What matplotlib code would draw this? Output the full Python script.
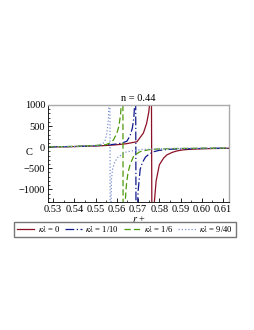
import matplotlib
matplotlib.use('Agg')
import matplotlib.pyplot as plt
from matplotlib.ticker import MultipleLocator, FuncFormatter

plt.rcParams['font.family'] = ['Liberation Serif', 'DejaVu Serif']
plt.rcParams['mathtext.fontset'] = 'stix'

# values (r_+ , C), both branches around each pole
r_red = [0.5276, 0.535, 0.540, 0.545, 0.550, 0.555, 0.560, 0.5645, 0.5695, 0.5725, 0.574, 0.575,
         0.5757, 0.5762, 0.5766, 0.5770, 0.5775, 0.5785, 0.580, 0.582, 0.5835, 0.586, 0.5882,
         0.591, 0.5945, 0.600, 0.606, 0.6128]
c_red = [6, 10, 14, 20, 28, 40, 58, 82, 130, 335, 560, 820,
         1150, 2600, -3200, -2000, -1400, -800, -420, -260, -185, -125, -90,
         -65, -50, -38, -31, -27]

r_blue = [0.5276, 0.535, 0.540, 0.545, 0.550, 0.555, 0.560, 0.5625, 0.5647, 0.5662, 0.5673, 0.568,
          0.5685, 0.5688, 0.5691, 0.5695, 0.570, 0.571, 0.572, 0.5734, 0.575, 0.5772, 0.580,
          0.585, 0.590, 0.600, 0.6128]
c_blue = [8, 12, 17, 24, 35, 50, 75, 100, 140, 265, 450, 700,
          1100, 2500, -3000, -1800, -1050, -520, -370, -240, -170, -110, -75,
          -50, -40, -31, -25]

r_green = [0.5276, 0.535, 0.540, 0.545, 0.550, 0.5546, 0.5568, 0.5584, 0.560, 0.561, 0.5618, 0.5624,
           0.5628, 0.5630, 0.5635, 0.5645, 0.5652, 0.5662, 0.568, 0.571, 0.575, 0.580, 0.590,
           0.600, 0.6128]
c_green = [8, 13, 19, 28, 40, 55, 100, 170, 330, 500, 800, 1300,
           3000, -3000, -1600, -900, -620, -420, -200, -105, -60, -42, -30,
           -25, -20]

r_dot = [0.5276, 0.535, 0.540, 0.545, 0.5498, 0.552, 0.5537, 0.5545, 0.5553, 0.556, 0.5565, 0.5567,
         0.5569, 0.5572, 0.5575, 0.558, 0.559, 0.5605, 0.5617, 0.564, 0.5678, 0.572, 0.580,
         0.590, 0.600, 0.6128]
c_dot = [6, 10, 15, 25, 30, 60, 100, 160, 330, 650, 1300, 3000,
         -3000, -1600, -750, -520, -350, -240, -200, -120, -80, -55, -38,
         -28, -22, -18]

labels = [r'$\kappa\lambda$ = 0', r'$\kappa\lambda$ = 1/10', r'$\kappa\lambda$ = 1/6', r'$\kappa\lambda$ = 9/40']

fig = plt.figure(figsize=(2.55, 3.30), dpi=100)
ax = fig.add_axes([48/255, 1-202/330, 181/255, 97/330])

ax.plot(r_red, c_red, color='#8c1025', lw=0.9, label=labels[0])
ax.plot(r_blue, c_blue, color='#101a8c', lw=0.9, dashes=(7, 2, 1, 2), label=labels[1])
ax.plot(r_green, c_green, color='#4f9a0a', lw=0.9, dashes=(5, 2.5), label=labels[2])
ax.plot(r_dot, c_dot, color='#7f93cf', lw=0.9, dashes=(1, 1.6), label=labels[3])

ax.set_xlim(0.5276, 0.6128)
ax.set_ylim(-1300, 1000)
ax.xaxis.set_major_locator(MultipleLocator(0.01))
ax.xaxis.set_minor_locator(MultipleLocator(0.005))
ax.yaxis.set_major_locator(MultipleLocator(500))
ax.yaxis.set_minor_locator(MultipleLocator(100))
ax.xaxis.set_major_formatter(FuncFormatter(lambda v, p: '%.2f' % v))
ax.yaxis.set_major_formatter(FuncFormatter(lambda v, p: ('\u2212%d' % -v) if v < 0 else '%d' % v))
ax.tick_params(which='both', direction='in', labelsize=7.5, pad=2, top=False, right=False)
ax.tick_params(which='major', length=3, width=0.6)
ax.tick_params(which='minor', length=1.5, width=0.5)
for s in ['top', 'right']:
    ax.spines[s].set_color('#aaaaaa')
    ax.spines[s].set_linewidth(1.0)
for s in ['left', 'bottom']:
    ax.spines[s].set_linewidth(0.6)

ax.set_title('n = 0.44', fontsize=7.5, pad=3)
ax.set_xlabel(r'$r$ +', fontsize=7.5, labelpad=0)
ax.set_ylabel('C', fontsize=7.5, rotation=0, va='center', ha='center')
ax.yaxis.set_label_coords(-19/181, 49/97)

fig.legend(loc='center', bbox_to_anchor=(125/255, 1-229.5/330), ncol=4, fontsize=6.2,
           handlelength=2.0, handletextpad=0.4, columnspacing=0.5, borderpad=0.3,
           fancybox=False, edgecolor='#777777', framealpha=1)

fig.savefig('out.png', dpi=100)
